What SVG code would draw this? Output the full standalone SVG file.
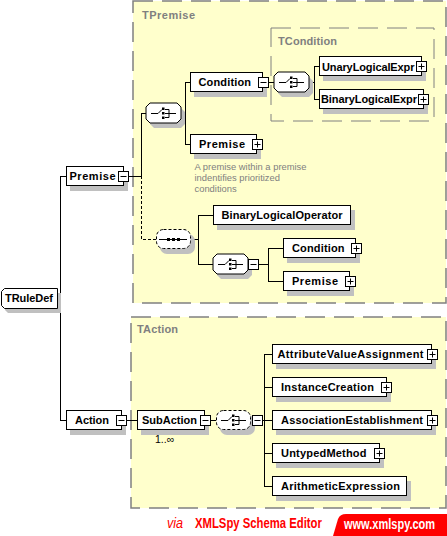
<svg xmlns="http://www.w3.org/2000/svg" xmlns:xlink="http://www.w3.org/1999/xlink" width="447" height="536" viewBox="0 0 447 536">
<style>
.sec{fill:#ffffcc;stroke:#808080;stroke-width:1.5;stroke-dasharray:20 9}
.sub{fill:none;stroke:#808080;stroke-width:1;stroke-dasharray:20 9}
.secl{font-family:"Liberation Sans",Arial,sans-serif;font-weight:bold;font-size:11px;fill:#808080}
.box{fill:#fff;stroke:#000;stroke-width:1}
.shd{fill:#c0c0c0;stroke:none}
.lbl{font-family:"Liberation Sans",Arial,sans-serif;font-weight:bold;font-size:11px;fill:#000}
.cmt{font-family:"Liberation Sans",Arial,sans-serif;font-size:9.4px;fill:#808080}
.conn{stroke:#000;stroke-width:1;fill:none}
.dsh{stroke-dasharray:3 2}
.g{stroke:#000;stroke-width:1;fill:none}
</style>
<defs>
<g id="pm"><rect x="-5" y="-5" width="10" height="10" fill="#fff" stroke="#000"/><path d="M-3,0H3" stroke="#000"/></g>
<g id="pp"><rect x="-5" y="-5" width="10" height="10" fill="#fff" stroke="#000"/><path d="M-3,0H3M0,-3V3" stroke="#000"/></g>
<g id="chShape"><polygon points="4,-10 31,-10 35,-6 35,6 31,10 4,10 0,6 0,-6"/></g>
<g id="chGlyph"><path class="g" d="M5,0H12L16,-4M19,-4H23V4H19M19,0H30"/><rect x="16" y="-6" width="2.5" height="2.5" fill="#000"/><rect x="16" y="-1.5" width="2.5" height="2.5" fill="#000"/><rect x="16" y="3" width="2.5" height="2.5" fill="#000"/></g>
<g id="sqGlyph"><path class="g" d="M3,0H31"/><rect x="11" y="-1.5" width="3" height="3" fill="#000"/><rect x="16" y="-1.5" width="3" height="3" fill="#000"/><rect x="21" y="-1.5" width="3" height="3" fill="#000"/></g>
</defs>
<rect width="447" height="536" fill="#fff"/>

<g id="sec-TPremise">
<rect class="sec" x="133" y="1" width="313" height="302"/>
<text class="secl" x="142" y="19" textLength="53">TPremise</text>
</g>
<g id="sec-TCondition">
<rect class="sub" x="271" y="28" width="163" height="93"/>
<text class="secl" x="278" y="45" textLength="59">TCondition</text>
</g>
<g id="sec-TAction">
<rect class="sec" x="131" y="317" width="315" height="191"/>
<text class="secl" x="137" y="333" textLength="41">TAction</text>
</g>

<g id="connectors" shape-rendering="crispEdges">
<path class="conn" d="M57,298H60M60,176V420M60,176H66M60,420H66"/>
<path class="conn" d="M128,176H141M141,113V176M141,113H146"/>
<path class="conn dsh" d="M141,176V239H156"/>
<path class="conn" d="M181,113H185M185,82V144M185,82H190M185,144H190"/>
<path class="conn" d="M268,82H274M309,82H314M314,66V99M314,66H319M314,99H319"/>
<path class="conn" d="M191,239H198M198,215V264M198,215H213M198,264H213"/>
<path class="conn" d="M258,264H268M268,248V281M268,248H283M268,281H283"/>
<path class="conn" d="M126,420H137M210,420H216M262,420H264M264,354V486M264,354H272M264,387H272M264,420H272M264,453H272M264,486H272"/>
</g>

<g id="TRuleDef">
<polygon class="shd" points="8,293 61,293 61,313 8,313 5,310 5,296"/>
<polygon class="box" points="4.5,288.5 57.5,288.5 57.5,308.5 4.5,308.5 1.5,305.5 1.5,291.5"/>
<text class="lbl" x="5" y="302" textLength="48">TRuleDef</text>
</g>

<g id="Premise">
<rect class="shd" x="70" y="171" width="58" height="20"/>
<rect class="box" x="66.5" y="166.5" width="57" height="19"/>
<text class="lbl" x="69.5" y="180" textLength="46">Premise</text>
<use xlink:href="#pm" x="123.5" y="176.5"/>
</g>

<g id="Action">
<rect class="shd" x="70" y="415" width="56" height="20"/>
<rect class="box" x="66.5" y="410.5" width="55" height="19"/>
<text class="lbl" x="75" y="424" textLength="34">Action</text>
<use xlink:href="#pm" x="121.5" y="420.5"/>
</g>

<g id="choice1">
<use xlink:href="#chShape" x="150" y="118" class="shd"/>
<use xlink:href="#chShape" x="146" y="113" fill="#fff" stroke="#000"/>
<use xlink:href="#chGlyph" x="146" y="113.5"/>
</g>

<g id="Condition1">
<rect class="shd" x="194" y="77" width="73" height="20"/>
<rect class="box" x="190.5" y="72.5" width="72" height="19"/>
<text class="lbl" x="198.5" y="86" textLength="52.5">Condition</text>
<use xlink:href="#pm" x="263.5" y="82.5"/>
</g>

<g id="Premise1b">
<rect class="shd" x="194" y="139" width="67" height="20"/>
<rect class="box" x="190.5" y="134.5" width="66" height="19"/>
<text class="lbl" x="199" y="148" textLength="46">Premise</text>
<use xlink:href="#pp" x="257.5" y="144.5"/>
</g>

<g id="comment">
<text class="cmt" x="194.5" y="169.5">A premise within a premise</text>
<text class="cmt" x="194.5" y="180.5">indentifies prioritized</text>
<text class="cmt" x="194.5" y="191.5">conditions</text>
</g>

<g id="choice2">
<use xlink:href="#chShape" x="278" y="87" class="shd"/>
<use xlink:href="#chShape" x="274" y="82" fill="#fff" stroke="#000"/>
<use xlink:href="#chGlyph" x="274" y="82.5"/>
</g>

<g id="UnaryLogicalExpr">
<rect class="shd" x="323" y="61" width="103" height="20"/>
<rect class="box" x="319.5" y="56.5" width="102" height="19"/>
<text class="lbl" x="322" y="70.5" textLength="92.5">UnaryLogicalExpr</text>
<use xlink:href="#pp" x="421.5" y="66.5"/>
</g>

<g id="BinaryLogicalExpr">
<rect class="shd" x="323" y="94" width="105" height="20"/>
<rect class="box" x="319.5" y="89.5" width="104" height="19"/>
<text class="lbl" x="321" y="103" textLength="96">BinaryLogicalExpr</text>
<use xlink:href="#pp" x="423.5" y="99.5"/>
</g>

<g id="sequence">
<rect class="shd" x="160" y="234" width="35" height="20" rx="7"/>
<rect x="156.5" y="229.5" width="34" height="19" rx="7" fill="#fff" stroke="#000" stroke-dasharray="3 2"/>
<use xlink:href="#sqGlyph" x="156" y="239.5"/>
</g>

<g id="BinaryLogicalOperator">
<rect class="shd" x="217" y="210" width="138" height="20"/>
<rect class="box" x="213.5" y="205.5" width="137" height="19"/>
<text class="lbl" x="221.5" y="219" textLength="121">BinaryLogicalOperator</text>
</g>

<g id="choice3">
<use xlink:href="#chShape" x="217" y="269" class="shd"/>
<use xlink:href="#chShape" x="213" y="264" fill="#fff" stroke="#000"/>
<use xlink:href="#chGlyph" x="213" y="264.5"/>
<use xlink:href="#pm" x="253.5" y="264.5"/>
</g>

<g id="Condition2">
<rect class="shd" x="287" y="243" width="73" height="20"/>
<rect class="box" x="283.5" y="238.5" width="72" height="19"/>
<text class="lbl" x="292" y="252" textLength="52.5">Condition</text>
<use xlink:href="#pp" x="356.5" y="248.5"/>
</g>

<g id="Premise2">
<rect class="shd" x="287" y="276" width="67" height="20"/>
<rect class="box" x="283.5" y="271.5" width="66" height="19"/>
<text class="lbl" x="292" y="285" textLength="46">Premise</text>
<use xlink:href="#pp" x="350.5" y="281.5"/>
</g>

<g id="SubAction">
<rect class="shd" x="141" y="415" width="68" height="20"/>
<rect class="box" x="137.5" y="410.5" width="67" height="19"/>
<text class="lbl" x="142" y="424" textLength="55">SubAction</text>
<use xlink:href="#pm" x="205.5" y="420.5"/>
<text x="155" y="443" font-family="Liberation Sans, Arial, sans-serif" font-size="10.5" fill="#000">1..∞</text>
</g>

<g id="choice4">
<rect class="shd" x="220" y="415" width="35" height="20" rx="7"/>
<rect x="216.5" y="410.5" width="34" height="19" rx="7" fill="#fff" stroke="#000" stroke-dasharray="3 2"/>
<use xlink:href="#chGlyph" x="216" y="420.5"/>
<use xlink:href="#pm" x="257.5" y="420.5"/>
</g>

<g id="AttributeValueAssignment">
<rect class="shd" x="276" y="349" width="160" height="20"/>
<rect class="box" x="272.5" y="344.5" width="159" height="19"/>
<text class="lbl" x="277.5" y="358" textLength="146">AttributeValueAssignment</text>
<use xlink:href="#pp" x="432.5" y="354.5"/>
</g>

<g id="InstanceCreation">
<rect class="shd" x="276" y="382" width="115" height="20"/>
<rect class="box" x="272.5" y="377.5" width="114" height="19"/>
<text class="lbl" x="281" y="391" textLength="93">InstanceCreation</text>
<use xlink:href="#pp" x="386.5" y="387.5"/>
</g>

<g id="AssociationEstablishment">
<rect class="shd" x="276" y="415" width="160" height="20"/>
<rect class="box" x="272.5" y="410.5" width="159" height="19"/>
<text class="lbl" x="281" y="424" textLength="142">AssociationEstablishment</text>
<use xlink:href="#pp" x="432.5" y="420.5"/>
</g>

<g id="UntypedMethod">
<rect class="shd" x="276" y="448" width="108" height="20"/>
<rect class="box" x="272.5" y="443.5" width="107" height="19"/>
<text class="lbl" x="281" y="457" textLength="85.5">UntypedMethod</text>
<use xlink:href="#pp" x="379.5" y="453.5"/>
</g>

<g id="ArithmeticExpression">
<rect class="shd" x="276" y="481" width="135" height="20"/>
<rect class="box" x="272.5" y="476.5" width="134" height="19"/>
<text class="lbl" x="281" y="490" textLength="119">ArithmeticExpression</text>
</g>

<g id="footer">
<text transform="translate(167,528) scale(0.9,1)" font-family="Liberation Sans, Arial, sans-serif" font-style="italic" font-size="14" fill="#ff0000">via</text>
<text transform="translate(195,528) scale(0.78,1)" font-family="Liberation Sans, Arial, sans-serif" font-weight="bold" font-size="14.5" fill="#ff0000">XMLSpy Schema Editor</text>
<path d="M333,536 L338,519 Q340,514 346,514 L447,514 L447,536 Z" fill="#ff0000"/>
<text transform="translate(344,528.5) scale(0.76,1)" font-family="Liberation Sans, Arial, sans-serif" font-weight="bold" font-size="14.5" fill="#ffffff">www.xmlspy.com</text>
</g>
</svg>
